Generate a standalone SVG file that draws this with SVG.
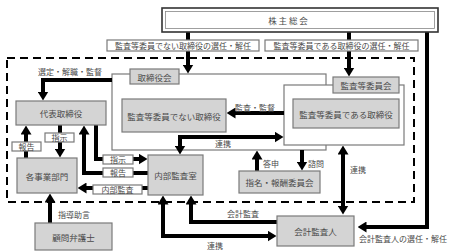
<svg xmlns="http://www.w3.org/2000/svg" width="452" height="252" viewBox="0 0 452 252">
<style>
.g{fill:#d4d4d4;stroke:#7a7a7a;stroke-width:1.2}
.w{fill:#fff;stroke:#7a7a7a;stroke-width:1.2}
.t{font-family:"Noto Sans CJK JP","Noto Sans CJK SC",sans-serif;font-size:8.5px;fill:#4a4a4a;text-anchor:middle;dominant-baseline:central}
.s{font-size:8px}
.a{fill:none;stroke:#000;stroke-width:4}
.e{marker-end:url(#ah)}
.b{marker-start:url(#ah);marker-end:url(#ah)}
</style>
<defs>
<marker id="ah" markerUnits="userSpaceOnUse" markerWidth="9" markerHeight="11" viewBox="0 0 9 11" refX="0.5" refY="5.5" orient="auto-start-reverse"><path d="M0,0L9,5.5L0,11z" fill="#000"/></marker>
</defs>
<rect x="7" y="58" width="407" height="144" fill="none" stroke="#000" stroke-width="2" stroke-dasharray="8 5"/>
<g id="n-board">
<rect class="w" x="112" y="74" width="214" height="76"/>
</g>
<g id="n-acc">
<rect class="w" x="284" y="85" width="120" height="60"/>
</g>
<g id="connectors">
<path class="a e" d="M188,32V65"/>
<path class="a e" d="M349,32V68"/>
<path class="a e" d="M427,32V227H366"/>
<path class="a e" d="M112,80H43V92"/>
<path class="a e" d="M284,113H235"/>
<path class="a b" d="M180,146V137H275"/>
<path class="a e" d="M26,158V134"/>
<path class="a e" d="M60,125V149"/>
<path class="a e" d="M96,125V159H139"/>
<path class="a e" d="M148,173H84V134"/>
<path class="a e" d="M148,188H86"/>
<path class="a e" d="M257,171V159"/>
<path class="a e" d="M302,150V162"/>
<path class="a b" d="M343,154V206"/>
<path class="a e" d="M277,222H191V204"/>
<path class="a b" d="M163,204V236H268"/>
<path class="a e" d="M50,223V202"/>
</g>
<g id="n-shareholders">
<rect x="162" y="8" width="276" height="24" fill="#fff" stroke="#333" stroke-width="1.6"/>
<rect x="165.5" y="11.5" width="269" height="17" fill="none" stroke="#888" stroke-width="0.8"/>
<text class="t" x="288" y="20">株 主 総 会</text>
</g>
<g id="l1"><rect class="w" x="107" y="40" width="152" height="11"/><text class="t s" x="183" y="45.5">監査等委員でない取締役の選任・解任</text></g>
<g id="l2"><rect class="w" x="265" y="40" width="153" height="11"/><text class="t s" x="341.5" y="45.5">監査等委員である取締役の選任・解任</text></g>
<g id="n-board-label"><rect class="g" x="130" y="69" width="49" height="15"/><text class="t" x="154.5" y="76.5">取締役会</text></g>
<g id="n-acc-label"><rect class="g" x="333" y="77" width="66" height="16"/><text class="t" x="366" y="85">監査等委員会</text></g>
<g id="n-nonaudit"><rect class="g" x="122" y="99" width="104" height="33"/><text class="t" x="174" y="115.5">監査等委員でない取締役</text></g>
<g id="n-audit"><rect class="g" x="293" y="99" width="106" height="29"/><text class="t" x="346" y="113.5">監査等委員である取締役</text></g>
<g id="n-rep"><rect class="g" x="16" y="101" width="90" height="24"/><text class="t" x="61" y="113">代表取締役</text></g>
<g id="n-div"><rect class="g" x="17" y="158" width="60" height="35"/><text class="t" x="47" y="175.5">各事業部門</text></g>
<g id="n-ia"><rect class="g" x="148" y="155" width="55" height="40"/><text class="t" x="175.5" y="175">内部監査室</text></g>
<g id="n-nom"><rect class="g" x="239" y="171" width="81" height="22"/><text class="t" x="279.5" y="182">指名・報酬委員会</text></g>
<g id="n-ca"><rect class="g" x="277" y="216" width="77" height="30"/><text class="t" x="315.5" y="231">会計監査人</text></g>
<g id="n-law"><rect class="g" x="35" y="223" width="77" height="27"/><text class="t" x="73.5" y="236.5">顧問弁護士</text></g>
<g id="labels">
<rect class="w" x="12" y="142" width="29" height="9"/><text class="t s" x="26.5" y="146.5">報告</text>
<rect class="w" x="45" y="133" width="29" height="9"/><text class="t s" x="59.5" y="137.5">指示</text>
<rect class="w" x="103" y="155" width="30" height="9"/><text class="t s" x="118" y="159.5">指示</text>
<rect class="w" x="103" y="168" width="30" height="9"/><text class="t s" x="118" y="172.5">報告</text>
<rect class="w" x="93" y="185" width="49" height="9"/><text class="t s" x="117.5" y="189.5">内部監査</text>
<text class="t s" x="70" y="71">選定・解職・監督</text>
<text class="t s" x="255" y="107">監査・監督</text>
<text class="t s" x="223" y="143">連携</text>
<text class="t s" x="271" y="163">答申</text>
<text class="t s" x="316" y="163">諮問</text>
<text class="t s" x="358" y="169">連携</text>
<text class="t s" x="243" y="213">会計監査</text>
<text class="t s" x="215" y="245">連携</text>
<text class="t s" x="403" y="238">会計監査人の選任・解任</text>
<text class="t s" x="74" y="214">指導助言</text>
</g>
</svg>
